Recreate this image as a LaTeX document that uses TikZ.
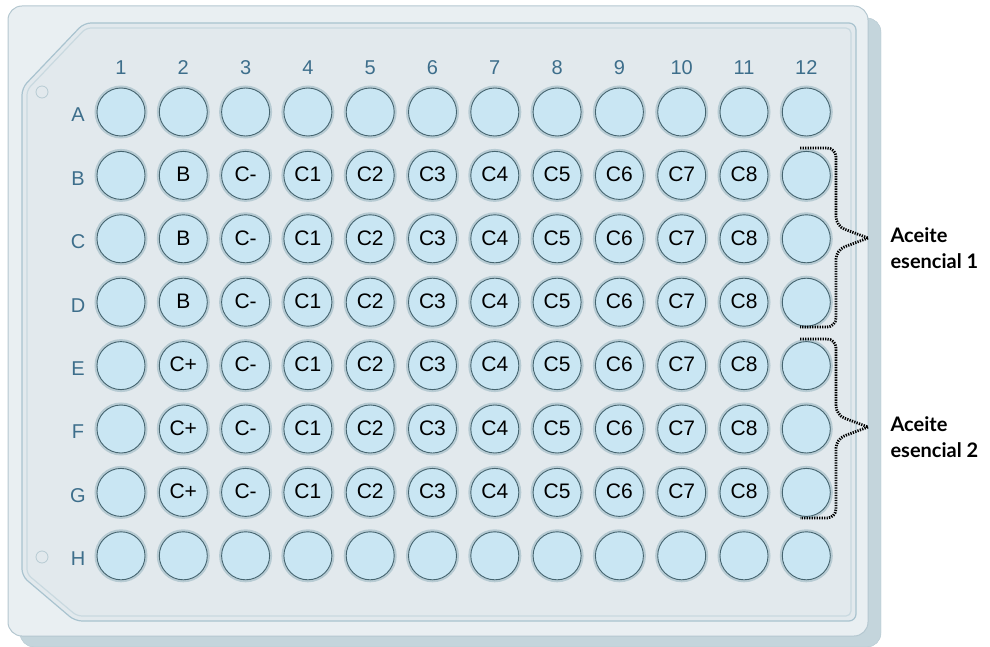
\documentclass[tikz,border=0pt]{standalone}
\usepackage{fontspec}
\setmainfont{Liberation Sans}
\newfontfamily\notefont{Lato}
\usepackage{tikz}
\usetikzlibrary{calc}
\definecolor{plateface}{HTML}{E9EFF2}
\definecolor{plateedge}{HTML}{B4C7D0}
\definecolor{plateside}{HTML}{C4D5DC}
\definecolor{panelfill}{HTML}{E2E9ED}
\definecolor{paneledge}{HTML}{A9C3CF}
\definecolor{panelinner}{HTML}{C9D9E0}
\definecolor{wellfill}{HTML}{C9E6F3}
\definecolor{welledge}{HTML}{45646F}
\definecolor{wellhalo}{HTML}{B7CBD3}
\definecolor{labelblue}{HTML}{3D6E8B}
\tikzset{
well/.style={
circle,
draw=welledge,
fill=wellfill,
line width=0.9pt,
minimum size=48pt,
inner sep=0pt,
preaction={draw=wellhalo, line width=5pt}
},
welltext/.style={
font=\fontsize{21}{23}\selectfont,
text=black,
yshift=1pt
},
platelabel/.style={
font=\fontsize{20}{22}\selectfont,
text=labelblue
},
notelabel/.style={
font=\notefont\bfseries\fontsize{20}{26}\selectfont,
align=left,
anchor=west
},
groupbrace/.style={
draw=black,
line width=2.8pt,
dash pattern=on 1.3pt off 1.2pt,
rounded corners=9pt
}
}

\begin{document}
\begin{tikzpicture}[x=1pt, y=-1pt]
\useasboundingbox (0,0) rectangle (990,647);

% plate body
\draw[draw=plateedge, fill=plateside, rounded corners=14pt] (20,18) rectangle (881,647);
\draw[draw=plateedge, fill=plateface, line width=1pt, rounded corners=14pt] (8,6) rectangle (868,636);
\draw[draw=paneledge, fill=panelfill, line width=1.2pt, rounded corners=7pt]
  (22,88) -- (84,23) -- (856,23) -- (856,621) -- (75,621) -- (22,576) -- cycle;
\draw[draw=panelinner, line width=1.2pt, rounded corners=5pt]
  (27,90) -- (86,28) -- (851,28) -- (851,616) -- (77,616) -- (27,574) -- cycle;
\foreach \y in {92,557} {
  \draw[draw=wellhalo, line width=0.8pt] (42,\y) circle (6pt);
}

% wells and plate labels
\foreach \c in {1,...,12} {
  \pgfmathsetmacro\xx{121+62.3*(\c-1)}
  \node[platelabel] (col-\c) at (\xx,68) {\c};
  \foreach \r [count=\i] in {A,B,C,D,E,F,G,H} {
    \pgfmathsetmacro\yy{112+63.4*(\i-1)}
    \node[well] (w-\r-\c) at (\xx,\yy) {};
  }
}
\foreach \r [count=\i] in {A,B,C,D,E,F,G,H} {
  \pgfmathsetmacro\yy{112+63.4*(\i-1)}
  \node[platelabel] (row-\r) at (78,\yy+3) {\r};
}

% well contents
\foreach \r/\ctl in {B/B, C/B, D/B, E/C+, F/C+, G/C+} {
  \node[welltext] at (w-\r-2) {\ctl};
  \node[welltext] at (w-\r-3) {C-};
  \foreach \k in {1,...,8} {
    \pgfmathtruncatemacro\col{\k+3}
    \node[welltext] at (w-\r-\col) {C\k};
  }
}

% groups
\draw[groupbrace] (800,148) -- (836,148) -- (836,226) -- (868,238);
\draw[groupbrace] (868,238) -- (836,250) -- (836,327) -- (800,327);
\draw[groupbrace] (800,339) -- (836,339) -- (836,415) -- (868,427);
\draw[groupbrace] (868,427) -- (836,439) -- (836,518) -- (800,518);
\node[notelabel] (oil-1) at (887,248) {Aceite\\esencial 1};
\node[notelabel] (oil-2) at (887,437) {Aceite\\esencial 2};

\end{tikzpicture}
\end{document}
